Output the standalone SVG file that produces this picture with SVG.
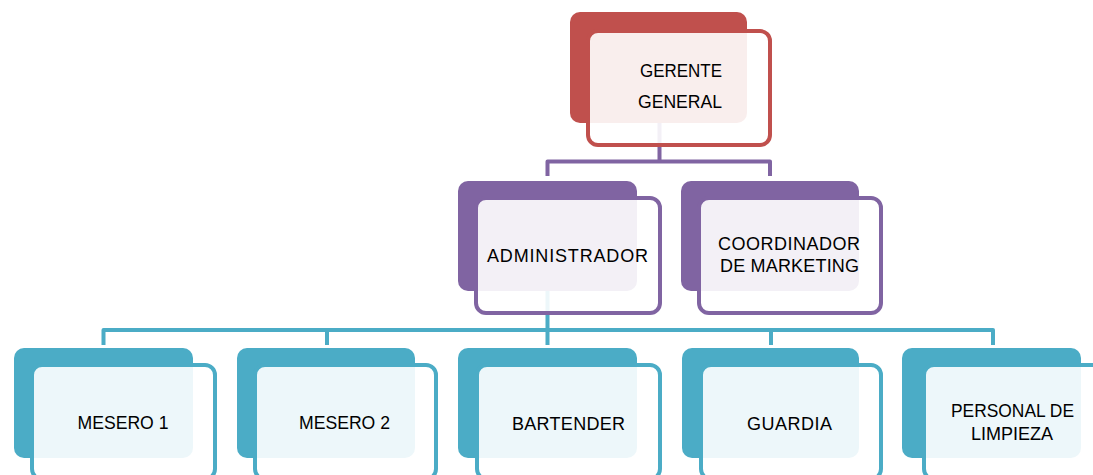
<svg xmlns="http://www.w3.org/2000/svg" width="1093" height="475" viewBox="0 0 1093 475">
<style>
.bg{fill:#ffffff}
.back{stroke:none}
.front{fill:#ffffff;fill-opacity:0.9;stroke-width:4}
.red .back{fill:#C0504D}
.red .front{stroke:#C0504D}
.pur .back{fill:#8064A2}
.pur .front{stroke:#8064A2}
.cyn .back{fill:#4BACC6}
.cyn .front{stroke:#4BACC6}
text{font-family:"Liberation Sans","DejaVu Sans",sans-serif;font-size:18px;fill:#000000;text-anchor:middle}
.conn{fill:none;stroke-width:4;stroke-linejoin:round}
</style>
<rect class="bg" x="0" y="0" width="1093" height="475"/>
<g id="connectors">
<path class="conn" stroke="#8064A2" d="M659.5,123 V161.5 M547.5,176 V161.5 H770 V176"/>
<path class="conn" stroke="#4BACC6" d="M547.5,291 V330 M103.5,345 V330 H993 V345 M327,330 V345 M547.5,330 V345 M771,330 V345"/>
</g>
<g id="gerente" class="red">
<rect class="back" x="570" y="12" width="177" height="111" rx="10"/>
<rect class="front" x="588" y="31" width="182" height="114" rx="10"/>
<text x="681" y="77" textLength="82" lengthAdjust="spacingAndGlyphs">GERENTE</text>
<text x="680" y="108" textLength="84" lengthAdjust="spacingAndGlyphs">GENERAL</text>
</g>
<g id="administrador" class="pur">
<rect class="back" x="458" y="181" width="179" height="110" rx="10"/>
<rect class="front" x="476" y="198" width="184" height="115" rx="10"/>
<text x="567.5" y="262" textLength="161" lengthAdjust="spacing">ADMINISTRADOR</text>
</g>
<g id="coordinador" class="pur">
<rect class="back" x="681" y="181" width="178" height="110" rx="10"/>
<rect class="front" x="699" y="198" width="182" height="115" rx="10"/>
<text x="789" y="250" textLength="142" lengthAdjust="spacing">COORDINADOR</text>
<text x="789.5" y="272" textLength="139" lengthAdjust="spacing">DE MARKETING</text>
</g>
<g id="mesero1" class="cyn">
<rect class="back" x="14" y="348" width="179" height="110" rx="10"/>
<rect class="front" x="32" y="365" width="183" height="114" rx="10"/>
<text x="123" y="429" textLength="91" lengthAdjust="spacingAndGlyphs">MESERO 1</text>
</g>
<g id="mesero2" class="cyn">
<rect class="back" x="237" y="348" width="178" height="110" rx="10"/>
<rect class="front" x="255" y="365" width="181" height="114" rx="10"/>
<text x="344.5" y="429" textLength="91" lengthAdjust="spacingAndGlyphs">MESERO 2</text>
</g>
<g id="bartender" class="cyn">
<rect class="back" x="458" y="348" width="179" height="110" rx="10"/>
<rect class="front" x="477" y="365" width="183" height="114" rx="10"/>
<text x="568.5" y="430" textLength="113" lengthAdjust="spacing">BARTENDER</text>
</g>
<g id="guardia" class="cyn">
<rect class="back" x="682" y="348" width="177" height="110" rx="10"/>
<rect class="front" x="701" y="365" width="180" height="114" rx="10"/>
<text x="789.5" y="430" textLength="85" lengthAdjust="spacing">GUARDIA</text>
</g>
<g id="personal" class="cyn">
<rect class="back" x="902" y="348" width="179" height="110" rx="10"/>
<rect class="front" x="924" y="365" width="183" height="114" rx="10"/>
<text x="1012.5" y="417" textLength="123" lengthAdjust="spacingAndGlyphs">PERSONAL DE</text>
<text x="1012" y="440" textLength="82" lengthAdjust="spacingAndGlyphs">LIMPIEZA</text>
</g>
</svg>
